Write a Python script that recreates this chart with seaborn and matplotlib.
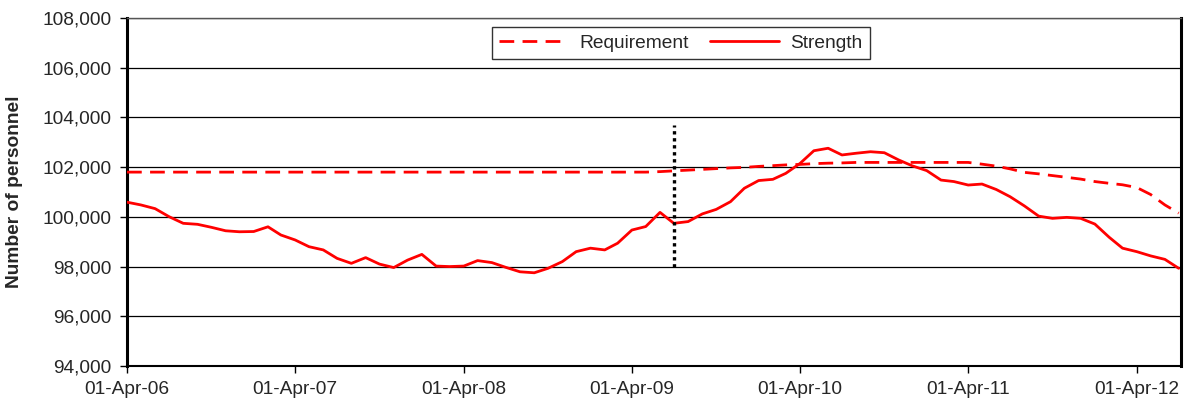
import matplotlib
matplotlib.use("Agg")
import matplotlib.pyplot as plt
import matplotlib.dates as mdates
import matplotlib.ticker as mticker
import numpy as np
import pandas as pd
import seaborn as sns

# ---- data (monthly, 01-Apr-06 .. 01-Jul-12) ----
start_month = "2006-04-01"
strength = [
    100590, 100480, 100330, 100010, 99740, 99700, 99580, 99440, 99400, 99410,
    99600, 99270, 99070, 98800, 98670, 98330, 98130, 98360, 98100, 97960,
    98260, 98490, 98020, 98000, 98020, 98240, 98160, 97970, 97790, 97750,
    97930, 98200, 98600, 98740, 98670, 98940, 99470, 99610, 100180, 99740,
    99810, 100120, 100300, 100610, 101150, 101460, 101510, 101750, 102150, 102660,
    102760, 102490, 102560, 102620, 102580, 102290, 102050, 101860, 101480, 101420,
    101280, 101320, 101100, 100810, 100440, 100030, 99940, 99980, 99940, 99710,
    99180, 98740, 98600, 98430, 98290, 97930,
]
requirement = [101800] * 38 + [
    101820, 101850, 101880, 101910, 101940, 101970, 101990, 102030, 102060, 102090,
    102110, 102140, 102160, 102170, 102190, 102190, 102190, 102190, 102190, 102190,
    102190, 102190, 102190, 102120, 102040, 101930, 101790, 101730, 101660, 101590,
    101520, 101420, 101350, 101290, 101180, 100900, 100480, 100150,
]
marker_date = "2009-07-01"
marker_range = [98000, 103700]
y_ticks = [94000, 96000, 98000, 100000, 102000, 104000, 106000, 108000]

dates = pd.date_range(start_month, periods=len(strength), freq="MS")
df = pd.DataFrame({"date": dates, "Requirement": requirement, "Strength": strength})
long = df.melt(id_vars="date", var_name="series", value_name="value")
mk = pd.DataFrame({"date": pd.to_datetime([marker_date, marker_date]), "value": marker_range})

sns.set_theme(style="white")
plt.rcParams["font.family"] = ["Liberation Sans", "DejaVu Sans"]
FS = 13.8

fig = plt.figure(figsize=(11.86, 4.11), dpi=100)
ax = fig.add_axes([0.1071, 0.1095, 0.8887, 0.8467])

for yv in y_ticks:
    ax.axhline(yv, color="black", lw=0.9, zorder=1)

sns.lineplot(data=long, x="date", y="value", hue="series", style="series",
             palette={"Requirement": "#ff0000", "Strength": "#ff0000"},
             dashes={"Requirement": (5.3, 3.0), "Strength": ""},
             linewidth=2.0, ax=ax, zorder=3)
sns.lineplot(data=mk, x="date", y="value", color="black", linewidth=2.4,
             linestyle=(0, (1, 1.1)), estimator=None, sort=False,
             errorbar=None, ax=ax, zorder=4, legend=False)

ax.set_xlim(dates[0], dates[-1] + pd.Timedelta(days=5))
ax.set_ylim(94000, 108000)
ax.set_yticks(y_ticks)
ax.yaxis.set_major_formatter(mticker.FuncFormatter(lambda v, p: f"{int(v):,}"))
ax.xaxis.set_major_locator(mdates.MonthLocator(bymonth=4, bymonthday=1))
ax.xaxis.set_major_formatter(mdates.DateFormatter("%d-%b-%y"))
ax.tick_params(axis="both", direction="out", length=5, width=1, color="black",
               labelsize=FS, left=True, bottom=True)
ax.tick_params(axis="y", pad=6)
ax.tick_params(axis="x", pad=6)
ax.set_xlabel("")
ax.set_ylabel("Number of personnel", fontsize=FS, fontweight="bold", labelpad=14)

for side in ["left", "right"]:
    ax.spines[side].set_color("black")
    ax.spines[side].set_linewidth(2.2)
ax.spines["bottom"].set_color("black")
ax.spines["bottom"].set_linewidth(1.5)
ax.spines["top"].set_color("#555555")
ax.spines["top"].set_linewidth(1.0)

handles, labels = ax.get_legend_handles_labels()
leg = ax.legend(handles, labels, loc="upper center", bbox_to_anchor=(0.5256, 0.974),
                ncol=2, frameon=True, fancybox=False, fontsize=FS,
                handlelength=3.6, columnspacing=1.1, handletextpad=0.6,
                borderpad=0.38, borderaxespad=0.0, edgecolor="black")
leg.get_frame().set_linewidth(1.0)

fig.savefig("out.png", dpi=100)
